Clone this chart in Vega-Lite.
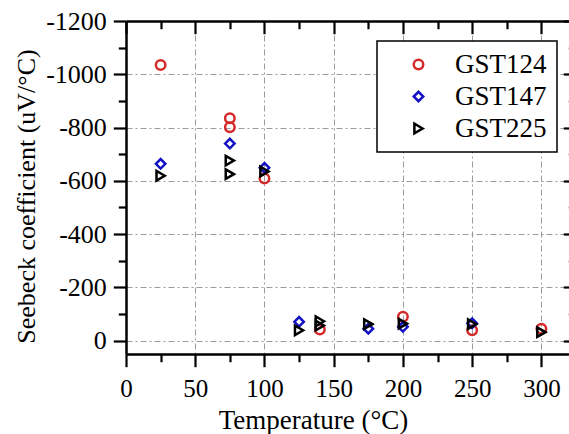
{
  "$schema": "https://vega.github.io/schema/vega-lite/v6.json",
  "width": 450,
  "height": 333,
  "autosize": {"type": "none"},
  "padding": {"left": 126, "top": 21, "right": -7, "bottom": 80},
  "background": "white",
  "config": {
    "view": {"stroke": null},
    "font": "Liberation Serif",
    "axis": {
      "labelFont": "Liberation Serif",
      "titleFont": "Liberation Serif",
      "labelColor": "black",
      "titleColor": "black",
      "titleFontWeight": "normal",
      "domainColor": "black",
      "tickColor": "black",
      "domainWidth": 2.5,
      "tickWidth": 2.2,
      "gridColor": "#9a9a9a",
      "gridDash": [6, 3, 2, 3],
      "gridWidth": 1
    },
    "legend": {
      "strokeColor": "black",
      "strokeWidth": 1.5,
      "fillColor": "white"
    }
  },
  "data": {
    "values": [
      {"series": "GST124", "temp": 25, "seebeck": -1035},
      {"series": "GST124", "temp": 75, "seebeck": -835},
      {"series": "GST124", "temp": 75, "seebeck": -801},
      {"series": "GST124", "temp": 100, "seebeck": -609},
      {"series": "GST124", "temp": 140, "seebeck": -42},
      {"series": "GST124", "temp": 200, "seebeck": -90},
      {"series": "GST124", "temp": 250, "seebeck": -39},
      {"series": "GST124", "temp": 300, "seebeck": -45},
      {"series": "GST147", "temp": 25, "seebeck": -664},
      {"series": "GST147", "temp": 75, "seebeck": -740},
      {"series": "GST147", "temp": 100, "seebeck": -649},
      {"series": "GST147", "temp": 125, "seebeck": -71},
      {"series": "GST147", "temp": 175, "seebeck": -45},
      {"series": "GST147", "temp": 200, "seebeck": -52},
      {"series": "GST147", "temp": 250, "seebeck": -65},
      {"series": "GST225", "temp": 25, "seebeck": -619},
      {"series": "GST225", "temp": 75, "seebeck": -676},
      {"series": "GST225", "temp": 75, "seebeck": -625},
      {"series": "GST225", "temp": 100, "seebeck": -635},
      {"series": "GST225", "temp": 125, "seebeck": -39},
      {"series": "GST225", "temp": 140, "seebeck": -73},
      {"series": "GST225", "temp": 140, "seebeck": -57},
      {"series": "GST225", "temp": 175, "seebeck": -62},
      {"series": "GST225", "temp": 200, "seebeck": -64},
      {"series": "GST225", "temp": 250, "seebeck": -62},
      {"series": "GST225", "temp": 300, "seebeck": -32}
    ]
  },
  "resolve": {"axis": {"x": "independent", "y": "independent"}},
  "layer": [
    {
      "mark": {"type": "point", "filled": false, "strokeWidth": 2.5, "size": 90, "opacity": 1},
      "encoding": {
        "x": {
          "field": "temp",
          "type": "quantitative",
          "scale": {"domain": [0, 325], "nice": false, "zero": false},
          "axis": {
            "orient": "bottom",
            "values": [0, 25, 50, 75, 100, 125, 150, 175, 200, 225, 250, 275, 300],
            "labelExpr": "datum.value % 50 === 0 ? format(datum.value, 'd') : ''",
            "labelFont": "Liberation Serif",
            "labelFontSize": 25,
            "labelPadding": 10,
            "labelFlush": false,
            "labelOverlap": false,
            "tickSize": {"condition": {"test": "datum.value % 50 === 0", "value": 12.7}, "value": 7.7},
            "grid": true,
            "gridOpacity": {"condition": {"test": "datum.value % 50 === 0 && datum.value > 0", "value": 1}, "value": 0},
            "title": "Temperature (°C)",
            "titleFont": "Liberation Serif",
            "titleFontSize": 27,
            "titleX": 187,
            "titleY": 74,
            "titleAlign": "center",
            "titleBaseline": "alphabetic"
          }
        },
        "y": {
          "field": "seebeck",
          "type": "quantitative",
          "scale": {"domain": [50, -1200], "nice": false, "zero": false},
          "axis": {
            "orient": "left",
            "values": [0, -100, -200, -300, -400, -500, -600, -700, -800, -900, -1000, -1100, -1200],
            "labelExpr": "datum.value % 200 === 0 ? (datum.value === 0 ? '0' : '-' + format(-datum.value, 'd')) : ''",
            "labelFont": "Liberation Serif",
            "labelFontSize": 26,
            "labelPadding": 7,
            "labelFlush": false,
            "labelOverlap": false,
            "tickSize": {"condition": {"test": "datum.value % 200 === 0", "value": 12.7}, "value": 7.7},
            "grid": true,
            "gridOpacity": {"condition": {"test": "datum.value % 200 === 0 && datum.value > -1200", "value": 1}, "value": 0},
            "title": "Seebeck coefficient (uV/°C)",
            "titleFont": "Liberation Serif",
            "titleFontSize": 26,
            "titleX": -100,
            "titleY": 175,
            "titleAngle": -90,
            "titleAlign": "center",
            "titleBaseline": "middle"
          }
        },
        "color": {
          "field": "series",
          "type": "nominal",
          "scale": {"domain": ["GST124", "GST147", "GST225"], "range": ["#d42a2a", "#1212c4", "#000000"]},
          "legend": {
            "title": null,
            "orient": "none",
            "legendX": 251,
            "legendY": 20,
            "padding": 10,
            "symbolOffset": 18,
            "labelFontSize": 27,
            "labelFont": "Liberation Serif",
            "labelColor": "black",
            "labelOffset": 23,
            "symbolSize": 90,
            "symbolStrokeWidth": 2.5,
            "rowPadding": 4
          }
        },
        "shape": {
          "field": "series",
          "type": "nominal",
          "scale": {"domain": ["GST124", "GST147", "GST225"], "range": ["circle", "diamond", "triangle-right"]},
          "legend": {
            "title": null,
            "orient": "none",
            "legendX": 251,
            "legendY": 20,
            "padding": 10,
            "symbolOffset": 18,
            "labelFontSize": 27,
            "labelFont": "Liberation Serif",
            "labelColor": "black",
            "labelOffset": 23,
            "symbolSize": 90,
            "symbolStrokeWidth": 2.5,
            "rowPadding": 4
          }
        }
      }
    },
    {
      "mark": {"type": "point", "opacity": 0},
      "encoding": {
        "x": {
          "field": "temp",
          "type": "quantitative",
          "axis": {
            "orient": "top",
            "values": [0, 25, 50, 75, 100, 125, 150, 175, 200, 225, 250, 275, 300],
            "labels": false,
            "grid": false,
            "title": null,
            "tickSize": {"condition": {"test": "datum.value % 50 === 0", "value": -12.7}, "value": -7.7}
          }
        },
        "y": {
          "field": "seebeck",
          "type": "quantitative",
          "axis": {
            "orient": "right",
            "values": [0, -100, -200, -300, -400, -500, -600, -700, -800, -900, -1000, -1100, -1200],
            "labels": false,
            "grid": false,
            "title": null,
            "tickSize": {"condition": {"test": "datum.value % 200 === 0", "value": -12.7}, "value": -7.7}
          }
        }
      }
    }
  ]
}
